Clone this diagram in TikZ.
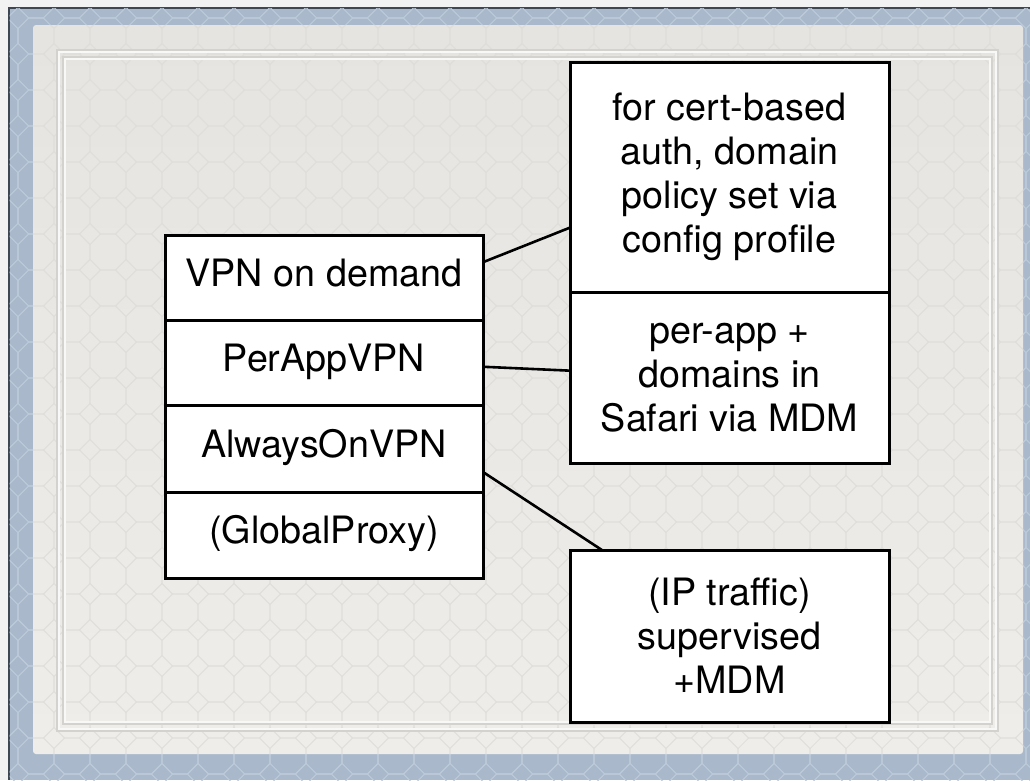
\documentclass[tikz,border=0pt]{standalone}
\usepackage{fontspec}
\setmainfont{TeX Gyre Heros}
\usetikzlibrary{calc}

\definecolor{pagewhite}{HTML}{F2F2F2}
\definecolor{edgedark}{HTML}{3E4752}
\definecolor{frameblue}{HTML}{A9B9CB}
\definecolor{frameline}{HTML}{BCCAD9}
\definecolor{paneltop}{HTML}{E5E4E0}
\definecolor{panelbot}{HTML}{EEEDEA}
\definecolor{panelline}{HTML}{DEDDD9}
\definecolor{bevelhi}{HTML}{F8F8F6}
\definecolor{bevello}{HTML}{D3D2CE}

\begin{document}
\begin{tikzpicture}[x=1pt,y=-1pt,
  every node/.style={font=\fontsize{37.7}{44}\selectfont},
  stackbox/.style={draw=black, line width=3pt, fill=white, minimum width=318pt,
    inner sep=0pt, outer sep=0pt, text height=27pt, text depth=10pt},
  notebox/.style={draw=black, line width=3pt, fill=white, minimum width=319pt,
    inner sep=0pt, outer sep=0pt, align=center},
  link/.style={draw=black, line width=2.6pt},
  octa/.style={line width=1.1pt}]

\useasboundingbox (0,0) rectangle (1030,780);

% page edge and blue frame
\fill[pagewhite] (0,0) rectangle (1030,780);
\fill[edgedark] (7.5,6.5) rectangle (1030,780);
\fill[frameblue] (9.5,8.5) rectangle (1030,780);

% octagon texture on the frame
\begin{scope}
  \clip (9.5,8.5) rectangle (1030,780);
  \foreach \i in {0,...,29} {
    \foreach \j in {0,...,22} {
      \draw[octa, frameline] ({36*\i+7.46},{36*\j-18}) -- ({36*\i+18},{36*\j-7.46})
        -- ({36*\i+18},{36*\j+7.46}) -- ({36*\i+7.46},{36*\j+18})
        -- ({36*\i-7.46},{36*\j+18}) -- ({36*\i-18},{36*\j+7.46})
        -- ({36*\i-18},{36*\j-7.46}) -- ({36*\i-7.46},{36*\j-18}) -- cycle;
    }
  }
\end{scope}

% light panel
\shade[top color=paneltop, bottom color=panelbot, rounded corners=3pt]
  (33,25) rectangle (1023,754);
\begin{scope}
  \clip[rounded corners=3pt] (33,25) rectangle (1023,754);
  \foreach \i in {0,...,29} {
    \foreach \j in {0,...,22} {
      \draw[octa, panelline, line width=0.8pt] ({36*\i+7.46},{36*\j-18}) -- ({36*\i+18},{36*\j-7.46})
        -- ({36*\i+18},{36*\j+7.46}) -- ({36*\i+7.46},{36*\j+18})
        -- ({36*\i-7.46},{36*\j+18}) -- ({36*\i-18},{36*\j+7.46})
        -- ({36*\i-18},{36*\j-7.46}) -- ({36*\i-7.46},{36*\j-18}) -- cycle;
    }
  }
\end{scope}

% embossed inner frame
\draw[bevello, line width=1.5pt] (57,50) rectangle (998,731);
\draw[bevelhi, line width=1.5pt] (59,52) rectangle (996,729);
\draw[bevello, line width=1.2pt] (63,57) rectangle (992,724);
\draw[bevelhi, line width=1.5pt] (65,59) rectangle (990,722);

% left stack
\node[stackbox, minimum height=85pt] (vod) at (324,277.5) {VPN on demand};
\node[stackbox, minimum height=85pt] (pav) at (324,362.5) {PerAppVPN};
\node[stackbox, minimum height=87pt] (aov) at (324,448.5) {AlwaysOnVPN};
\node[stackbox, minimum height=86pt] (gp)  at (324,535)   {(GlobalProxy)};

% notes on the right
\node[notebox, minimum height=230pt] (cert) at (729.5,177)
  {for cert-based\\auth, domain\\policy set via\\config profile};
\node[notebox, minimum height=171pt] (app) at (729.5,377.5)
  {per-app +\\domains in\\Safari via MDM};
\node[notebox, minimum height=172pt] (ip) at (729.5,636)
  {(IP traffic)\\supervised\\+MDM};

% connectors
\draw[link] ($(vod.north east)!0.32!(vod.south east)$) -- ($(cert.north west)!0.72!(cert.south west)$);
\draw[link] ($(pav.north east)!0.55!(pav.south east)$) -- ($(app.north west)!0.46!(app.south west)$);
\draw[link] ($(aov.north east)!0.77!(aov.south east)$) -- ($(ip.north west)!0.10!(ip.north east)$);

\end{tikzpicture}
\end{document}
